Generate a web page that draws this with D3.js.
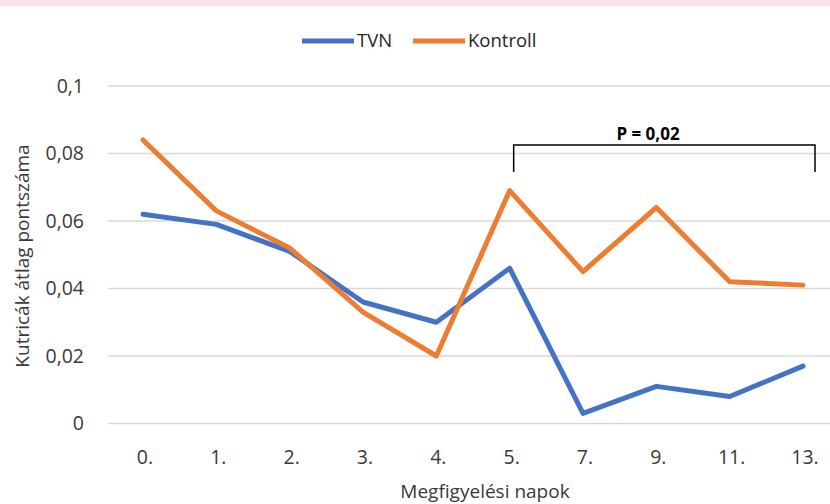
<!DOCTYPE html>
<html>
<head>
<meta charset="utf-8">
<script src="https://cdn.jsdelivr.net/npm/d3@7"></script>
<style>
  body { margin: 0; background: #fff; }
  svg { display: block; font-family: "Open Sans", Lato, sans-serif; }
</style>
</head>
<body>
<div id="container"></div>
<script>
// chart data
const days = ["0.", "1.", "2.", "3.", "4.", "5.", "7.", "9.", "11.", "13."];
const tvn = [0.062, 0.059, 0.051, 0.036, 0.030, 0.046, 0.003, 0.011, 0.008, 0.017];
const kontroll = [0.084, 0.063, 0.052, 0.033, 0.020, 0.069, 0.045, 0.064, 0.042, 0.041];
const yTicks = [0, 0.02, 0.04, 0.06, 0.08, 0.1];
const seriesNames = ["TVN", "Kontroll"];
const bracketFrom = "5.";
const bracketTo = "13.";
const bracketLabel = "P = 0,02";

const width = 830, height = 504;
const colors = ["#4472C4", "#ED7D31"];

const svg = d3.select("#container")
    .append("svg")
    .attr("width", width)
    .attr("height", height);

// pink strip at the very top
svg.append("rect")
    .attr("x", 0).attr("y", 0)
    .attr("width", width).attr("height", 6)
    .attr("fill", "#f9e4ea");

const x = d3.scalePoint()
    .domain(days)
    .range([143, 803]);

const y = d3.scaleLinear()
    .domain([0, 0.1])
    .range([423.5, 86]);

// gridlines
svg.append("g")
    .selectAll("line")
    .data(yTicks)
    .join("line")
    .attr("x1", 108)
    .attr("x2", width)
    .attr("y1", d => y(d))
    .attr("y2", d => y(d))
    .attr("stroke", "#d9d9d9")
    .attr("stroke-width", 1.5);

// y tick labels
svg.append("g")
    .selectAll("text")
    .data(yTicks)
    .join("text")
    .attr("x", 84)
    .attr("y", d => y(d))
    .attr("dy", "0.35em")
    .attr("text-anchor", "end")
    .attr("font-size", 19.5)
    .attr("fill", "#3a3a3a")
    .text(d => d3.format(".2~f")(d).replace(".", ","));

// x tick labels
svg.append("g")
    .selectAll("text")
    .data(days)
    .join("text")
    .attr("x", d => x(d) + 2)
    .attr("y", 464)
    .attr("text-anchor", "middle")
    .attr("font-size", 19.5)
    .attr("fill", "#3a3a3a")
    .text(d => d);

// axis titles
svg.append("text")
    .attr("x", 485)
    .attr("y", 498)
    .attr("text-anchor", "middle")
    .attr("font-size", 19)
    .attr("fill", "#3a3a3a")
    .text("Megfigyelési napok");

svg.append("text")
    .attr("transform", "translate(29,256) rotate(-90)")
    .attr("text-anchor", "middle")
    .attr("font-size", 19)
    .attr("fill", "#3a3a3a")
    .text("Kutricák átlag pontszáma");

// lines
const line = d3.line()
    .x((d, i) => x(days[i]))
    .y(d => y(d));

[tvn, kontroll].forEach((s, i) => {
    svg.append("path")
        .datum(s)
        .attr("d", line)
        .attr("fill", "none")
        .attr("stroke", colors[i])
        .attr("stroke-width", 5)
        .attr("stroke-linejoin", "round")
        .attr("stroke-linecap", "round");
});

// significance bracket
const bx1 = x(bracketFrom) + 4, bx2 = x(bracketTo) + 12;
svg.append("path")
    .attr("d", `M${bx1},172 V145 H${bx2} V172`)
    .attr("fill", "none")
    .attr("stroke", "#000")
    .attr("stroke-width", 1.5);

svg.append("text")
    .attr("x", 648)
    .attr("y", 140)
    .attr("text-anchor", "middle")
    .attr("font-size", 17)
    .attr("font-weight", "bold")
    .attr("fill", "#000")
    .text(bracketLabel);

// legend
const legend = svg.append("g");
const legendItems = [{ x: 302, name: seriesNames[0] }, { x: 413, name: seriesNames[1] }];
legendItems.forEach((d, i) => {
    legend.append("line")
        .attr("x1", d.x).attr("x2", d.x + 52)
        .attr("y1", 41).attr("y2", 41)
        .attr("stroke", colors[i])
        .attr("stroke-width", 5);
    legend.append("text")
        .attr("x", d.x + 55)
        .attr("y", 41)
        .attr("dy", "0.35em")
        .attr("font-size", 18.5)
        .attr("fill", "#262626")
        .text(d.name);
});
</script>
</body>
</html>
